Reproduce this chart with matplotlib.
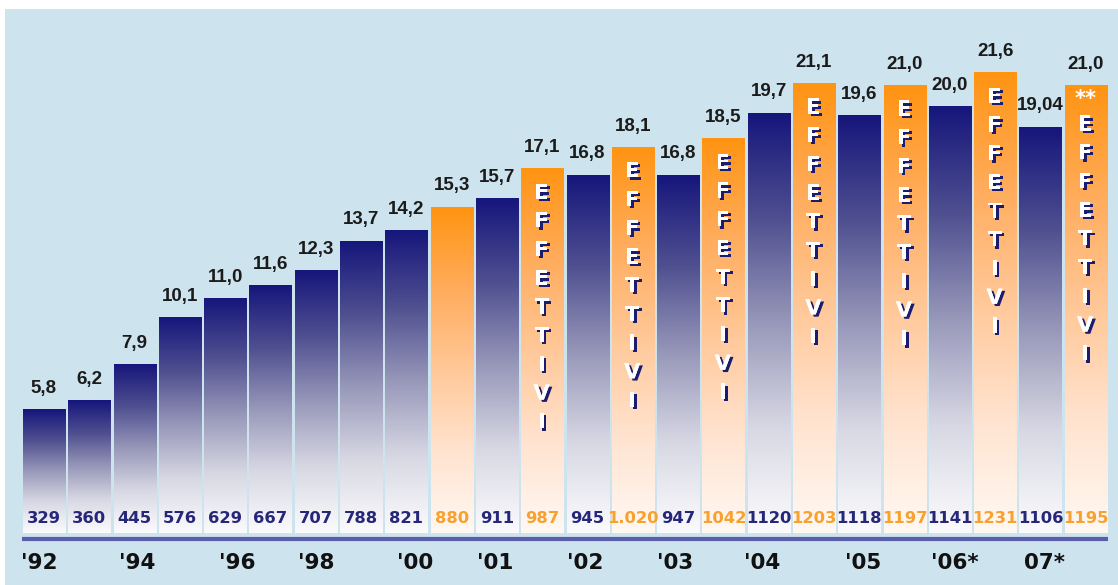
import numpy as np
import matplotlib
matplotlib.use("Agg")
import matplotlib.pyplot as plt
from matplotlib.colors import LinearSegmentedColormap
import matplotlib.patheffects as pe

# ---- data ----
values = [5.8, 6.2, 7.9, 10.1, 11.0, 11.6, 12.3, 13.7, 14.2, 15.3, 15.7, 17.1,
          16.8, 18.1, 16.8, 18.5, 19.7, 21.1, 19.6, 21.0, 20.0, 21.6, 19.04, 21.0]
top_labels = ["5,8", "6,2", "7,9", "10,1", "11,0", "11,6", "12,3", "13,7", "14,2",
              "15,3", "15,7", "17,1", "16,8", "18,1", "16,8", "18,5", "19,7", "21,1",
              "19,6", "21,0", "20,0", "21,6", "19,04", "21,0"]
bottom_labels = ["329", "360", "445", "576", "629", "667", "707", "788", "821", "880",
                 "911", "987", "945", "1.020", "947", "1042", "1120", "1203", "1118",
                 "1197", "1141", "1231", "1106", "1195"]
orange_idx = [9, 11, 13, 15, 17, 19, 21, 23]
effettivi_idx = [11, 13, 15, 17, 19, 21, 23]
starred_idx = [23]
year_labels = ["'92", "'94", "'96", "'98", "'00", "'01", "'02", "'03", "'04", "'05",
               "'06*", "07*"]
year_pos = [-0.11, 2.05, 4.26, 6.0, 8.19, 9.96, 11.94, 13.93, 15.85, 18.08, 20.1, 22.08]
word = "EFFETTIVI"

# ---- style ----
BG = "#cde3ee"
NAVY_TXT = "#27277a"
ORANGE_TXT = "#f7a12e"
blue_cmap = LinearSegmentedColormap.from_list(
    "b", [(0, "#fbfbfd"), (0.25, "#d8d8e4"), (0.5, "#9898ba"), (0.75, "#4f4f90"), (1, "#16167c")])
orange_cmap = LinearSegmentedColormap.from_list(
    "o", [(0, "#fff8f3"), (0.25, "#ffe3cf"), (0.5, "#ffc899"), (0.75, "#ffac5c"), (1, "#ff9412")])

W, H = 1118, 585
fig = plt.figure(figsize=(W / 100, H / 100), dpi=100, facecolor="white")
ax = fig.add_axes([5 / W, 0, (W - 5) / W, (H - 9) / H])
ax.set_facecolor(BG)
ax.set_xlim(-0.861, 23.71)
ax.set_ylim(-2.441, 24.60)
for s in ax.spines.values():
    s.set_visible(False)
ax.set_xticks([])
ax.set_yticks([])

x = np.arange(len(values))
bw = 0.93
bars = ax.bar(x, values, width=bw, facecolor="none", edgecolor="none", zorder=2)
grad = np.linspace(0, 1, 256).reshape(-1, 1)
for i, b in enumerate(bars):
    cm = orange_cmap if i in orange_idx else blue_cmap
    x0, y0 = b.get_x(), b.get_y()
    ax.imshow(grad, cmap=cm, origin="lower", aspect="auto",
              extent=(x0, x0 + b.get_width(), y0, y0 + b.get_height()), zorder=1,
              interpolation="bilinear")

# baseline
ax.plot([-0.48, 23.48], [-0.26, -0.26], color="#5a5ea8", lw=3.0, solid_capstyle="butt", zorder=3)

# top labels
for i, (v, t) in enumerate(zip(values, top_labels)):
    ax.annotate(t, xy=(i, v), xytext=(0, 12.2), textcoords="offset points",
                ha="center", va="baseline", fontsize=13.5, fontweight="bold",
                family="Liberation Sans", color="#1b1b1b", zorder=4)

# bottom numbers
for i, t in enumerate(bottom_labels):
    ax.text(i, 0.68, t, ha="center", va="center", fontsize=11.8, fontweight="bold",
            family="DejaVu Sans", color=ORANGE_TXT if i in orange_idx else NAVY_TXT, zorder=4)

# EFFETTIVI vertical text
shadow = [pe.withSimplePatchShadow(offset=(2.0, -1.6), shadow_rgbFace="#1c1c6e", alpha=1.0),
          pe.Normal()]
for i in effettivi_idx:
    start = 24
    if i in starred_idx:
        ax.annotate("**", xy=(i, values[i]), xytext=(0, -13 * 0.72), textcoords="offset points",
                    ha="center", va="center", fontsize=15, fontweight="bold",
                    color="white", zorder=5)
        start = 39
    for k, ch in enumerate(word):
        off = (start + 28.7 * k) * 0.72
        ax.annotate(ch, xy=(i, values[i]), xytext=(-0.5, -off), textcoords="offset points",
                    ha="center", va="center", fontsize=15, fontweight="heavy",
                    family="DejaVu Sans", color="white", zorder=5, path_effects=shadow)

# year labels
for p, t in zip(year_pos, year_labels):
    ax.text(p, -1.41, t, ha="center", va="center", fontsize=15.5, fontweight="bold",
            family="DejaVu Sans", color="#111111", zorder=4)

fig.savefig("out.png", dpi=100, facecolor="white")
